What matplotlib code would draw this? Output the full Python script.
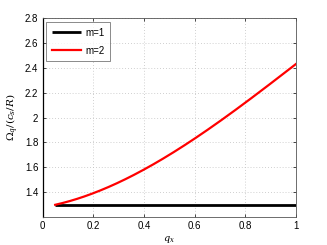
import matplotlib
matplotlib.use("Agg")
import matplotlib.pyplot as plt
import numpy as np

q_m1 = [0.05, 1.0]
omega_m1 = [1.30, 1.30]
q_m2 = [0.05, 0.1, 0.15, 0.2, 0.3, 0.4, 0.5, 0.6, 0.7, 0.8, 0.9, 1.0]
omega_m2 = [1.302, 1.325, 1.352, 1.386, 1.477, 1.592, 1.704, 1.824, 1.965, 2.125, 2.275, 2.43]
xticks = [0, 0.2, 0.4, 0.6, 0.8, 1]
yticks = [1.4, 1.6, 1.8, 2.0, 2.2, 2.4, 2.6, 2.8]
ytick_labels = ["1.4", "1.6", "1.8", "2", "2.2", "2.4", "2.6", "2.8"]
xtick_labels = ["0", "0.2", "0.4", "0.6", "0.8", "1"]

plt.rcParams['font.family'] = ['Liberation Sans', 'DejaVu Sans']
plt.rcParams['mathtext.fontset'] = 'dejavuserif'

fig = plt.figure(figsize=(3.27, 2.45), dpi=100)
ax = fig.add_axes([0.130, 0.114, 0.775, 0.812])

coef = np.polyfit(q_m2, omega_m2, 3)
qq = np.linspace(q_m2[0], q_m2[-1], 200)
ax.plot(q_m1, omega_m1, color='black', lw=2.0, label='m=1', solid_capstyle='butt')
ax.plot(qq, np.polyval(coef, qq), color='red', lw=1.6, label='m=2')

ax.set_xlim(0, 1)
ax.set_ylim(1.2, 2.8)
ax.set_xticks(xticks)
ax.set_xticklabels(xtick_labels)
ax.set_yticks(yticks)
ax.set_yticklabels(ytick_labels)
ax.tick_params(labelsize=7, direction='in', length=2, width=0.5, top=True, right=True, pad=3)
ax.grid(True, linestyle=(0, (1, 2.5)), color='#c0c0c0', linewidth=0.6)
for s in ax.spines.values():
    s.set_linewidth(0.6)
    s.set_color('#555555')
ax.spines['left'].set_color('black')
ax.spines['left'].set_linewidth(0.9)

ax.set_xlabel(r'$q_x$', fontsize=7, labelpad=2)
ax.set_ylabel(r'$\Omega_q/(c_s/R)$', fontsize=7.5, labelpad=3)

leg = ax.legend(loc='upper left', fontsize=7, handlelength=3.0, frameon=True, fancybox=False,
                borderpad=0.6, labelspacing=0.8, handletextpad=0.4, borderaxespad=0.4)
leg.get_frame().set_edgecolor('#555555')
leg.get_frame().set_linewidth(0.6)

fig.savefig('out.png', dpi=100)
